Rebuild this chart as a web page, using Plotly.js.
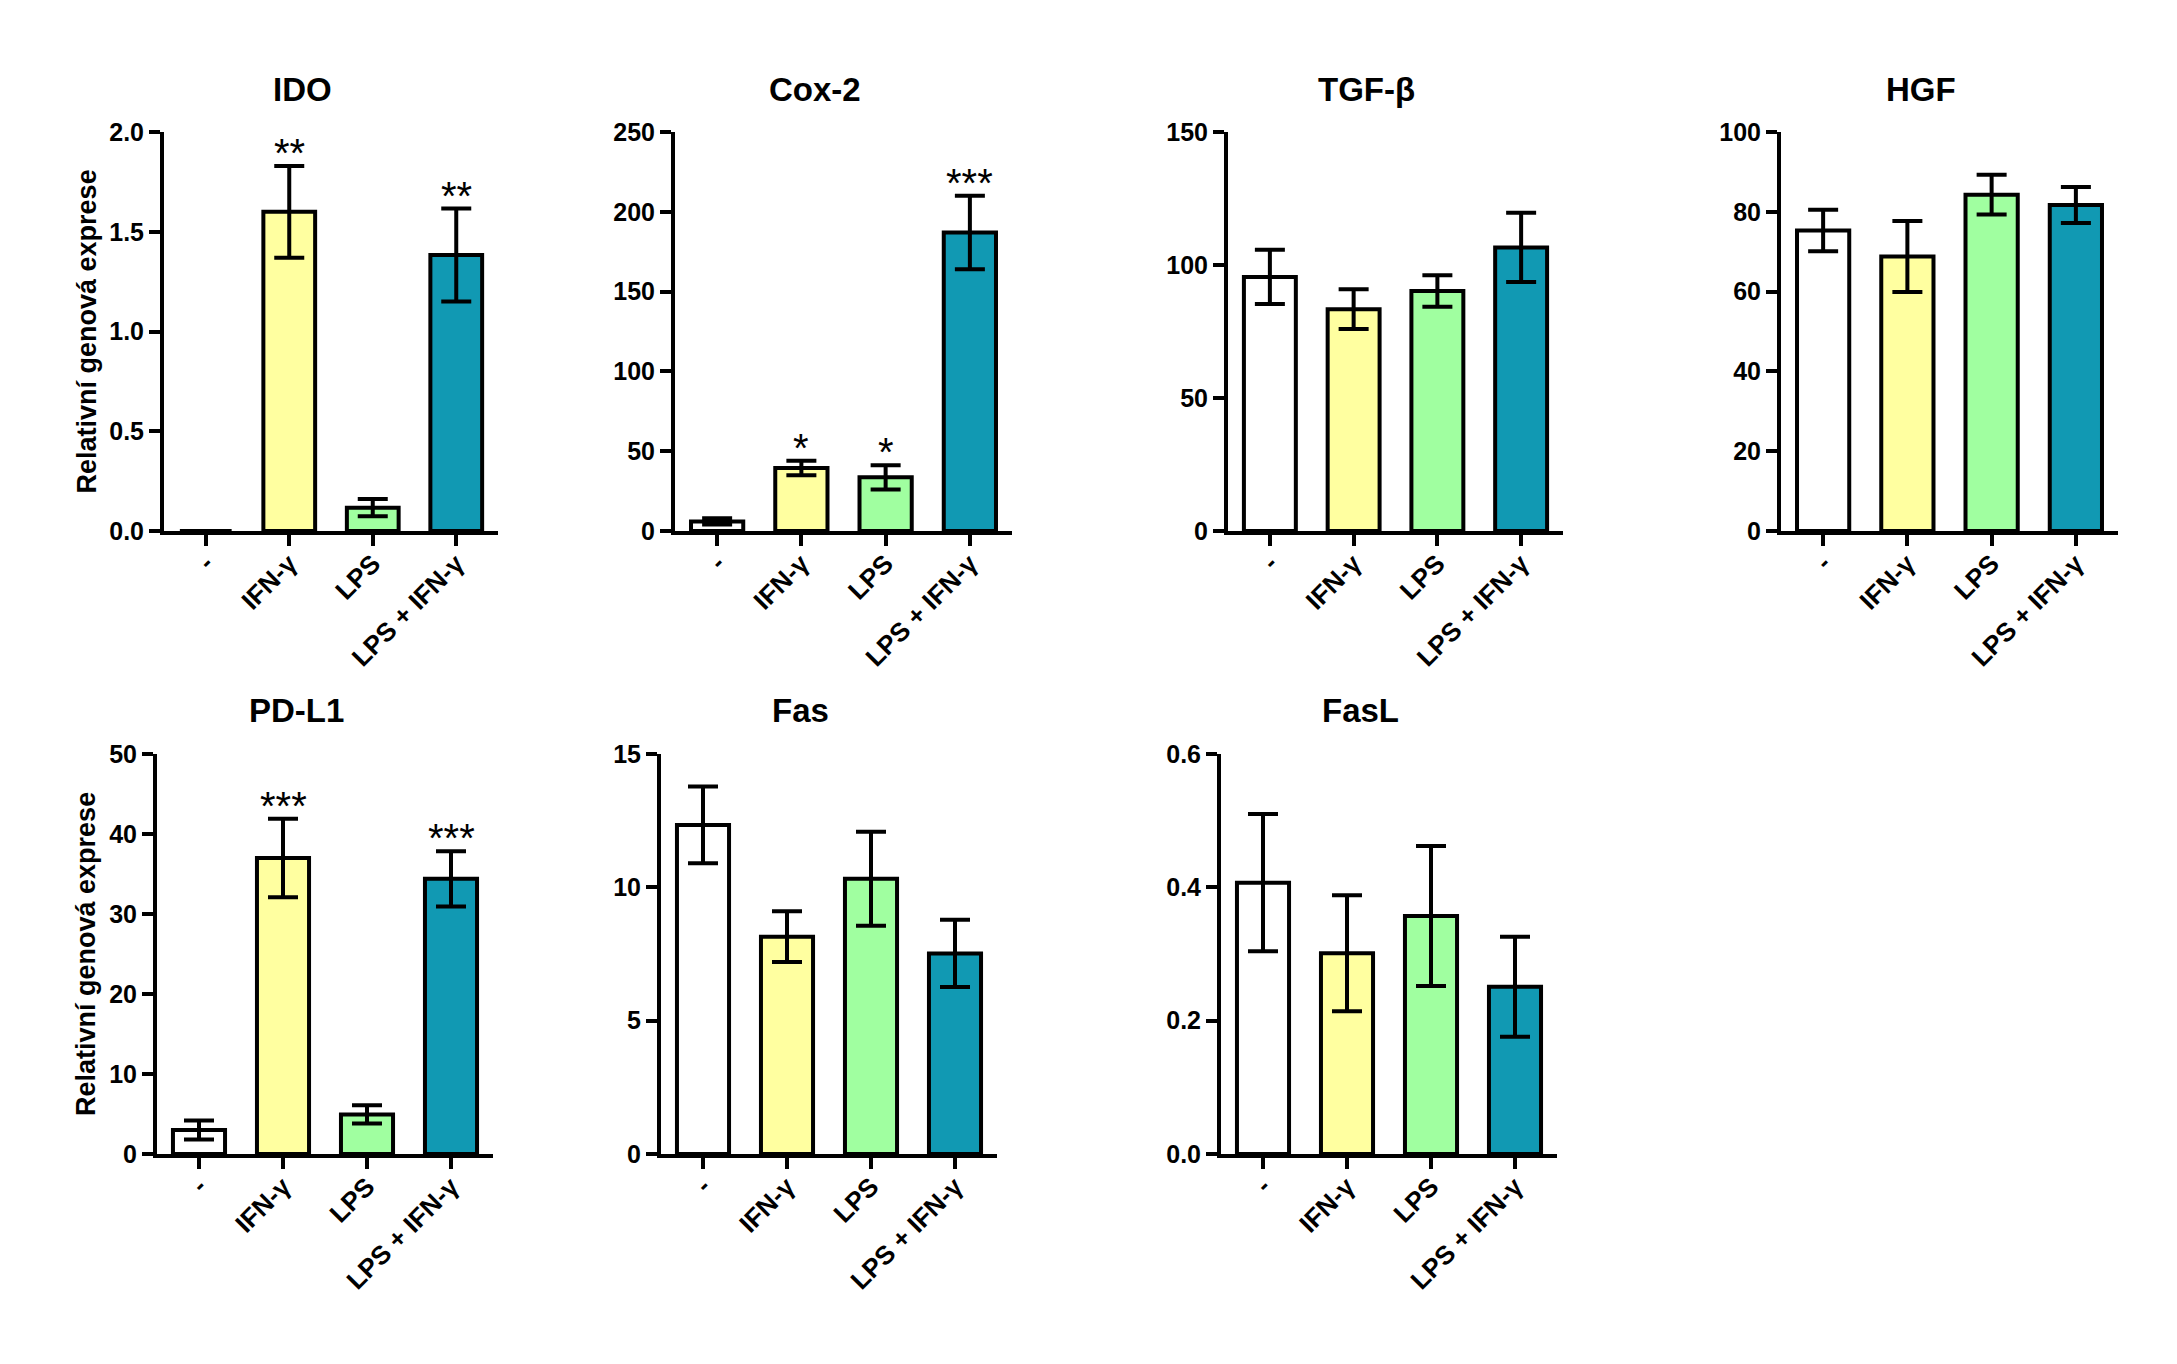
<!DOCTYPE html>
<html><head><meta charset="utf-8">
<script src="https://cdn.plot.ly/plotly-3.0.1.min.js"></script>
<style>html,body{margin:0;padding:0;background:#fff}</style>
</head><body><div id="chart" style="width:2177px;height:1364px"></div>
<script>
// ---- data ----
const categories = ['-', 'IFN-γ', 'LPS', 'LPS + IFN-γ'];
const genes = ['IDO', 'Cox-2', 'TGF-β', 'HGF', 'PD-L1', 'Fas', 'FasL'];
const yAxisLabel = 'Relativní genová exprese';

const idoMean  = [0, 1.60, 0.117, 1.383];
const idoErr   = [0, 0.23, 0.043, 0.233];
const idoStars = ['', '**', '', '**'];

const coxMean  = [6.0, 39.5, 33.6, 187];
const coxErr   = [2.0, 4.5, 7.6, 23];
const coxStars = ['', '*', '*', '***'];

const tgfMean  = [95.5, 83.4, 90.2, 106.6];
const tgfErr   = [10.2, 7.5, 5.9, 13.0];
const tgfStars = ['', '', '', ''];

const hgfMean  = [75.3, 68.8, 84.3, 81.7];
const hgfErr   = [5.2, 8.9, 5.0, 4.5];
const hgfStars = ['', '', '', ''];

const pdl1Mean  = [3.0, 37.0, 4.95, 34.4];
const pdl1Err   = [1.2, 4.9, 1.15, 3.45];
const pdl1Stars = ['', '***', '', '***'];

const fasMean  = [12.34, 8.15, 10.32, 7.52];
const fasErr   = [1.44, 0.95, 1.76, 1.26];
const fasStars = ['', '', '', ''];

const faslMean  = [0.407, 0.301, 0.357, 0.251];
const faslErr   = [0.103, 0.087, 0.105, 0.075];
const faslStars = ['', '', '', ''];

const yMax   = [2.0, 250, 150, 100, 50, 15, 0.6];
const yDtick = [0.5, 50, 50, 20, 10, 5, 0.2];

// ---- styling / layout ----
const barColors = ['#ffffff', '#ffffa0', '#a0ffa0', '#1199b3'];
const FONT = 'Liberation Sans, Arial, sans-serif';
const W = 2177, H = 1364;

const means = [idoMean, coxMean, tgfMean, hgfMean, pdl1Mean, fasMean, faslMean];
const errs  = [idoErr, coxErr, tgfErr, hgfErr, pdl1Err, fasErr, faslErr];
const stars = [idoStars, coxStars, tgfStars, hgfStars, pdl1Stars, fasStars, faslStars];
const fmts  = ['.1f', '', '', '', '', '', '.1f'];

// plot boxes in pixels [x0,x1,y0(top),y1(bottom)]
const boxes = [
  [164, 498, 132, 531],
  [675, 1012, 132, 531],
  [1228, 1563, 132, 531],
  [1781, 2118, 132, 531],
  [157, 493, 754, 1154],
  [661, 997, 754, 1154],
  [1221, 1557, 754, 1154]
];

const data = [];
const layout = {
  width: W, height: H,
  margin: {l: 0, r: 0, t: 0, b: 0},
  paper_bgcolor: '#fff', plot_bgcolor: '#fff',
  showlegend: false,
  font: {family: FONT, color: '#000'},
  annotations: []
};

genes.forEach((g, i) => {
  const n = i + 1;
  const xa = 'x' + (n === 1 ? '' : n), ya = 'y' + (n === 1 ? '' : n);
  const b = boxes[i];
  data.push({
    type: 'bar', x: categories, y: means[i],
    xaxis: xa, yaxis: ya, width: 0.62,
    marker: {color: barColors, line: {color: '#000', width: 4}},
    error_y: {type: 'data', array: errs[i], visible: true, color: '#000', thickness: 4, width: 15},
    hoverinfo: 'skip'
  });
  const axBase = {
    showline: true, linecolor: '#000', linewidth: 4,
    ticks: 'outside', ticklen: 11, tickwidth: 4, tickcolor: '#000',
    showgrid: false, zeroline: false
  };
  layout['xaxis' + (n === 1 ? '' : n)] = Object.assign({}, axBase, {
    domain: [b[0] / W, b[1] / W], anchor: ya,
    type: 'category', range: [-0.5, 3.5], tickangle: -45,
    ticklabelstandoff: -8,
    tickfont: {family: FONT, size: 26, weight: 'bold', color: '#000'}
  });
  layout['yaxis' + (n === 1 ? '' : n)] = Object.assign({}, axBase, {
    domain: [1 - b[3] / H, 1 - b[2] / H], anchor: xa,
    range: [0, yMax[i]], dtick: yDtick[i], tick0: 0, tickformat: fmts[i],
    tickfont: {family: FONT, size: 25, weight: 'bold', color: '#000'}
  });
  // panel title
  layout.annotations.push({
    text: '<b>' + g + '</b>', showarrow: false,
    xref: xa + ' domain', yref: ya + ' domain', x: 0.5, y: 1,
    xanchor: 'center', yanchor: 'middle', xshift: -29, yshift: 43,
    font: {family: FONT, size: 33, color: '#000'}
  });
  // significance stars
  stars[i].forEach((s, k) => {
    if (!s) return;
    layout.annotations.push({
      text: s, showarrow: false, xref: xa, yref: ya,
      x: categories[k], y: means[i][k] + errs[i][k],
      xanchor: 'center', yanchor: 'bottom', yshift: -11,
      font: {family: FONT, size: 40, color: '#000'}
    });
  });
});

// y-axis titles for the left column
[0, 4].forEach(i => {
  const b = boxes[i];
  layout.annotations.push({
    text: '<b>' + yAxisLabel + '</b>', showarrow: false, textangle: -90,
    xref: 'paper', yref: 'paper', x: 86 / W, y: 1 - (b[2] + b[3]) / 2 / H,
    xanchor: 'center', yanchor: 'middle',
    font: {family: FONT, size: 27, color: '#000'}
  });
});

Plotly.newPlot('chart', data, layout, {staticPlot: true});
</script></body></html>
